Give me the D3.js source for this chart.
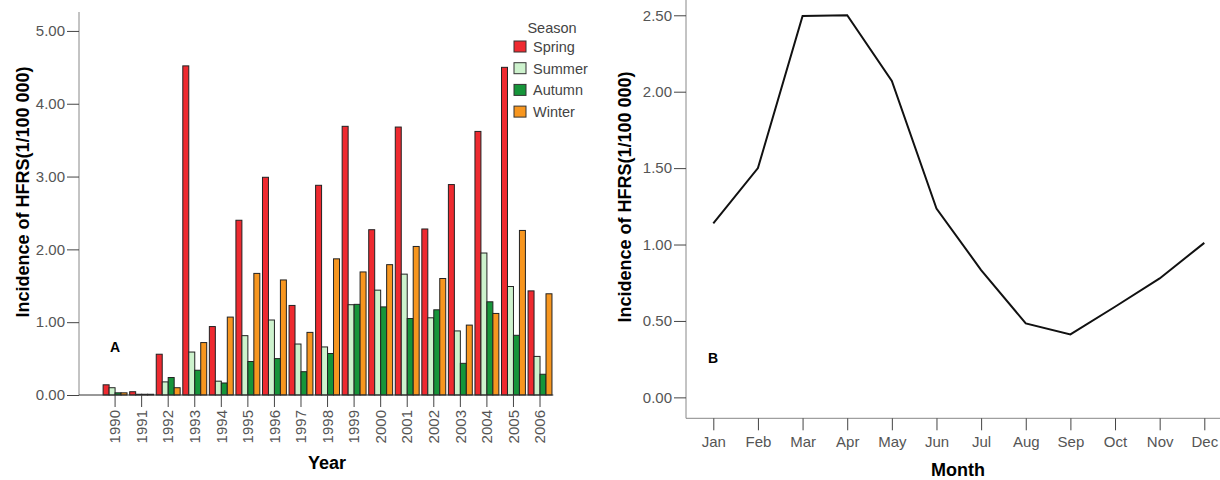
<!DOCTYPE html>
<html>
<head>
<meta charset="utf-8">
<script src="https://cdn.jsdelivr.net/npm/d3@7"></script>
<style>
  body { margin: 0; background: #fff; }
  svg { font-family: "Liberation Sans", Arial, sans-serif; }
  .tick text { fill: #555; }
</style>
</head>
<body>
<div id="chart"></div>
<script>
// data
const years = ["1990","1991","1992","1993","1994","1995","1996","1997","1998",
               "1999","2000","2001","2002","2003","2004","2005","2006"];
const seasons = ["Spring", "Summer", "Autumn", "Winter"];
const seasonColors = ["#ee2a30", "#cdf2cd", "#16953a", "#f7961f"];
const spring = [0.14, 0.045, 0.56, 4.52, 0.94, 2.40, 2.99, 1.23, 2.88, 3.69, 2.27, 3.68, 2.28, 2.89, 3.62, 4.50, 1.43];
const summer = [0.10, 0.01, 0.18, 0.59, 0.19, 0.815, 1.03, 0.70, 0.66, 1.24, 1.44, 1.66, 1.06, 0.88, 1.95, 1.49, 0.53];
const autumn = [0.03, 0.01, 0.24, 0.34, 0.165, 0.46, 0.50, 0.32, 0.57, 1.245, 1.21, 1.05, 1.17, 0.435, 1.28, 0.82, 0.285];
const winter = [0.03, 0.01, 0.10, 0.72, 1.07, 1.67, 1.58, 0.86, 1.87, 1.69, 1.79, 2.04, 1.60, 0.96, 1.12, 2.26, 1.39];
const yTicksA = [0, 1, 2, 3, 4, 5];

const months = ["Jan","Feb","Mar","Apr","May","Jun","Jul","Aug","Sep","Oct","Nov","Dec"];
const monthly = [1.138, 1.50, 2.496, 2.50, 2.07, 1.236, 0.833, 0.484, 0.412, 0.593, 0.778, 1.011];
const yTicksB = [0, 0.5, 1, 1.5, 2, 2.5];

const svg = d3.select("#chart").append("svg")
    .attr("width", 1220)
    .attr("height", 480);

// ---------- panel A: grouped bars ----------
const seriesA = [spring, summer, autumn, winter];
const rows = years.map((y, i) => ({ year: y, values: seasons.map((s, j) => ({ season: s, v: seriesA[j][i] })) }));

const yA = d3.scaleLinear().domain([0, 5.26]).range([395, 12]);
const x0 = d3.scaleBand().domain(years).range([101.8, 553.3]).paddingInner(0.1).paddingOuter(0.05);
const x1 = d3.scaleBand().domain(seasons).range([0, x0.bandwidth()]);
const color = d3.scaleOrdinal().domain(seasons).range(seasonColors);

const gA = svg.append("g");

gA.selectAll(".grp")
    .data(rows)
    .enter().append("g")
    .attr("transform", d => "translate(" + x0(d.year) + ",0)")
    .selectAll("rect")
    .data(d => d.values)
    .enter().append("rect")
    .attr("x", d => x1(d.season))
    .attr("width", x1.bandwidth())
    .attr("y", d => yA(d.v))
    .attr("height", d => yA(0) - yA(d.v))
    .attr("fill", d => color(d.season))
    .attr("stroke", "#222")
    .attr("stroke-width", 1);

// y axis
const axA = gA.append("g")
    .attr("transform", "translate(79,0)")
    .call(d3.axisLeft(yA).tickValues(yTicksA).tickFormat(d3.format(".2f")).tickSize(12).tickPadding(2));
axA.select(".domain").attr("stroke", "#888").attr("d", "M0,12V395");
axA.selectAll(".tick line").attr("stroke", "#444");
axA.selectAll(".tick text").style("font-size", "15px");

// baseline
gA.append("line")
    .attr("x1", 79).attr("x2", 553.3)
    .attr("y1", yA(0)).attr("y2", yA(0))
    .attr("stroke", "#333");

// x axis
const axX = gA.append("g")
    .attr("transform", "translate(0,395)")
    .call(d3.axisBottom(x0).tickSize(12).tickPadding(4));
axX.select(".domain").remove();
axX.selectAll(".tick line").attr("stroke", "#444");
axX.selectAll(".tick text")
    .style("font-size", "15px")
    .attr("transform", "rotate(-90)")
    .attr("text-anchor", "end")
    .attr("x", -15)
    .attr("y", 0)
    .attr("dy", "0.35em");

gA.append("text")
    .attr("x", 327).attr("y", 469)
    .attr("text-anchor", "middle")
    .style("font-size", "18px").style("font-weight", "bold")
    .text("Year");

gA.append("text")
    .attr("transform", "translate(29,192) rotate(-90)")
    .attr("text-anchor", "middle")
    .style("font-size", "18px").style("font-weight", "bold")
    .text("Incidence of HFRS(1/100 000)");

gA.append("text")
    .attr("x", 115).attr("y", 352)
    .attr("text-anchor", "middle")
    .style("font-size", "14px").style("font-weight", "bold")
    .text("A");

// legend
const legend = gA.append("g").attr("transform", "translate(514,0)");
legend.append("text")
    .attr("x", 38).attr("y", 33)
    .attr("text-anchor", "middle")
    .attr("fill", "#444")
    .style("font-size", "14.5px")
    .text("Season");
const li = legend.selectAll(".li")
    .data(seasons)
    .enter().append("g")
    .attr("transform", (d, i) => "translate(0," + (41 + i * 21.7) + ")");
li.append("rect")
    .attr("width", 12).attr("height", 11)
    .attr("fill", d => color(d))
    .attr("stroke", "#333");
li.append("text")
    .attr("x", 19).attr("y", 6).attr("dy", "0.35em")
    .attr("fill", "#444")
    .style("font-size", "14.5px")
    .text(d => d);

// ---------- panel B: monthly line ----------
const yB = d3.scaleLinear().domain([-0.137, 2.6]).range([418.3, 0]);
const xB = d3.scalePoint().domain(months).range([713.3, 1204.3]);

const gB = svg.append("g");

const axB = gB.append("g")
    .attr("transform", "translate(686,0)")
    .call(d3.axisLeft(yB).tickValues(yTicksB).tickFormat(d3.format(".2f")).tickSize(12).tickPadding(2));
axB.select(".domain").attr("stroke", "#888").attr("d", "M0,0V418.3");
axB.selectAll(".tick line").attr("stroke", "#444");
axB.selectAll(".tick text").style("font-size", "15px");

const axBx = gB.append("g")
    .attr("transform", "translate(0,418.3)")
    .call(d3.axisBottom(xB).tickSize(12).tickPadding(6));
axBx.select(".domain").attr("stroke", "#888").attr("d", "M686,0H1220");
axBx.selectAll(".tick line").attr("stroke", "#444");
axBx.selectAll(".tick text").style("font-size", "15px");

const line = d3.line()
    .x((d, i) => xB(months[i]))
    .y(d => yB(d));

gB.append("path")
    .datum(monthly)
    .attr("d", line)
    .attr("fill", "none")
    .attr("stroke", "#111")
    .attr("stroke-width", 2);

gB.append("text")
    .attr("x", 958).attr("y", 476)
    .attr("text-anchor", "middle")
    .style("font-size", "18px").style("font-weight", "bold")
    .text("Month");

gB.append("text")
    .attr("transform", "translate(631,197) rotate(-90)")
    .attr("text-anchor", "middle")
    .style("font-size", "18px").style("font-weight", "bold")
    .text("Incidence of HFRS(1/100 000)");

gB.append("text")
    .attr("x", 713).attr("y", 363)
    .attr("text-anchor", "middle")
    .style("font-size", "14px").style("font-weight", "bold")
    .text("B");
</script>
</body>
</html>
